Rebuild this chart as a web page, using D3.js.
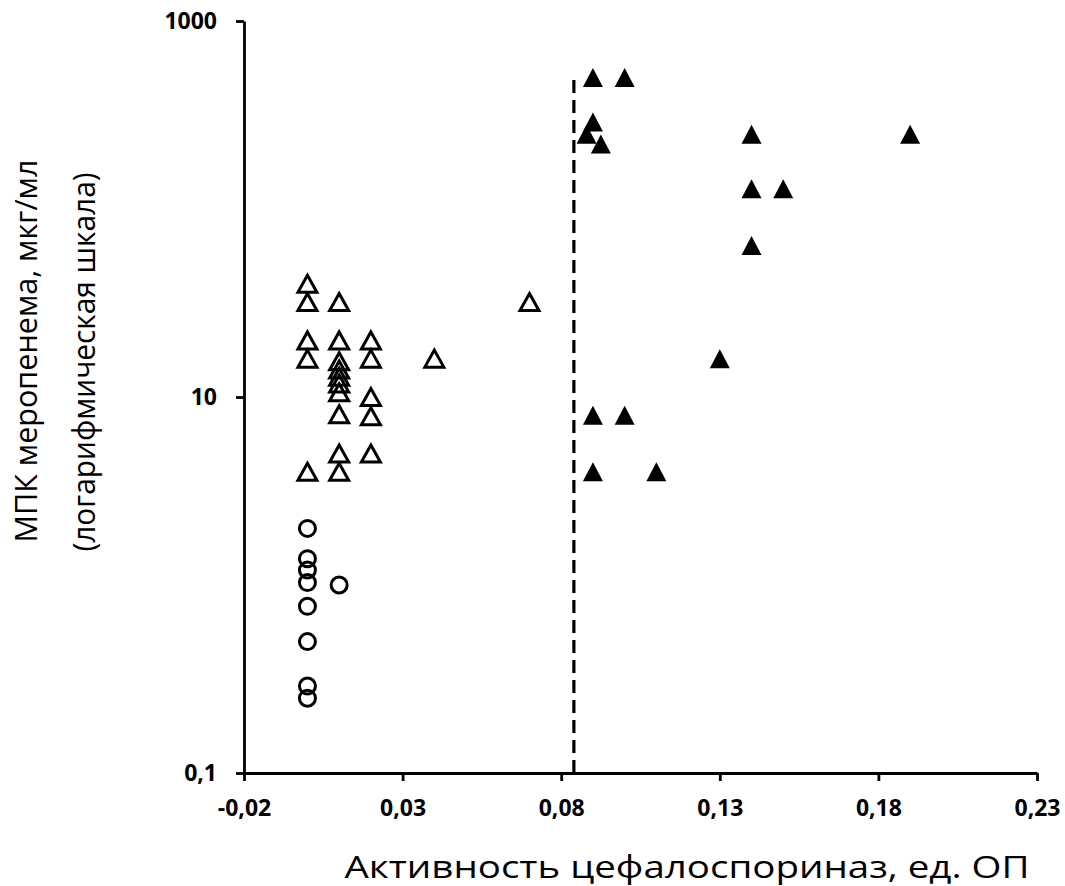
<!DOCTYPE html>
<html>
<head>
<meta charset="utf-8">
<script src="https://cdn.jsdelivr.net/npm/d3@7"></script>
<style>
  body { margin: 0; background: #fff; }
  .axis path, .axis line { stroke: #000; stroke-width: 2.8; }
  .axis text { font-family: "Open Sans", sans-serif; font-weight: bold; font-size: 23px; fill: #000; }
  .title { font-family: "Open Sans", sans-serif; font-size: 31px; fill: #000; }
</style>
</head>
<body>
<div id="chart"></div>
<script>
// x = cephalosporinase activity (OD units), y = meropenem MIC (ug/ml)
var circlesX = [0, 0, 0, 0, 0, 0, 0, 0, 0.01];
var circlesY = [2, 1.38, 1.2, 1.03, 0.77, 0.5, 0.29, 0.25, 1.0];

var openX = [0, 0, 0, 0, 0,
             0.01, 0.01, 0.01, 0.01, 0.01, 0.01, 0.01, 0.01, 0.01, 0.01,
             0.02, 0.02, 0.02, 0.02, 0.02,
             0.04, 0.07];
var openY = [40, 32, 20, 16, 4,
             32, 20, 15.5, 14, 12.8, 11.8, 10.6, 8.1, 5, 4,
             20, 16, 10, 7.9, 5,
             16, 32];

var filledX = [0.09, 0.10, 0.09, 0.088, 0.0925, 0.14, 0.19, 0.14, 0.15, 0.14, 0.13, 0.09, 0.10, 0.09, 0.11];
var filledY = [500, 500, 290, 250, 222, 250, 250, 128, 128, 64, 16, 8, 8, 4, 4];

var cutoffX = 0.084;
var cutoffTop = 500;

var xTicks = [-0.02, 0.03, 0.08, 0.13, 0.18, 0.23];
var yTicks = [0.1, 10, 1000];

var xTitle = "Активность цефалоспориназ, ед. ОП";
var yTitle1 = "МПК меропенема, мкг/мл";
var yTitle2 = "(логарифмическая шкала)";

// layout
var width = 1065, height = 886;
var margin = {top: 21, right: 28, bottom: 113, left: 244};

var svg = d3.select("#chart").append("svg")
    .attr("width", width)
    .attr("height", height);

svg.append("rect").attr("width", width).attr("height", height).attr("fill", "#fff");

var x = d3.scaleLinear()
    .domain([-0.02, 0.23])
    .range([margin.left, width - margin.right]);

var y = d3.scaleLog()
    .domain([0.1, 1000])
    .range([height - margin.bottom, margin.top]);

function fmt(d) { return String(+d.toFixed(2)).replace(".", ","); }

// triangle symbol centred on its bounding box
function triangle(hw, hh) {
  return { draw: function(ctx) {
    ctx.moveTo(0, -hh);
    ctx.lineTo(hw, hh);
    ctx.lineTo(-hw, hh);
    ctx.closePath();
  }};
}

// dashed cutoff line
svg.append("line")
    .attr("x1", x(cutoffX)).attr("x2", x(cutoffX))
    .attr("y1", y(0.1)).attr("y2", y(cutoffTop))
    .attr("stroke", "#000")
    .attr("stroke-width", 3.2)
    .attr("stroke-dasharray", "13,7");

// axes
svg.append("g")
    .attr("class", "axis")
    .attr("transform", "translate(0," + y(0.1) + ")")
    .call(d3.axisBottom(x).tickValues(xTicks).tickFormat(fmt).tickSize(8).tickSizeOuter(0).tickPadding(19));

svg.append("g")
    .attr("class", "axis")
    .attr("transform", "translate(" + x(-0.02) + ",0)")
    .call(d3.axisLeft(y).tickValues(yTicks).tickFormat(fmt).tickSize(8).tickSizeOuter(0).tickPadding(19));

// circles
svg.append("g").selectAll("circle")
    .data(circlesX.map(function(d, i) { return [d, circlesY[i]]; }))
    .enter().append("circle")
      .attr("cx", function(d) { return x(d[0]); })
      .attr("cy", function(d) { return y(d[1]); })
      .attr("r", 8)
      .attr("fill", "none")
      .attr("stroke", "#000")
      .attr("stroke-width", 3);

// open triangles
svg.append("g").selectAll("path")
    .data(openX.map(function(d, i) { return [d, openY[i]]; }))
    .enter().append("path")
      .attr("d", d3.symbol().type(triangle(9.5, 8.5)))
      .attr("transform", function(d) { return "translate(" + x(d[0]) + "," + y(d[1]) + ")"; })
      .attr("fill", "none")
      .attr("stroke", "#000")
      .attr("stroke-width", 3)
      .attr("stroke-linejoin", "miter");

// filled triangles
svg.append("g").selectAll("path")
    .data(filledX.map(function(d, i) { return [d, filledY[i]]; }))
    .enter().append("path")
      .attr("d", d3.symbol().type(triangle(10, 9.5)))
      .attr("transform", function(d) { return "translate(" + x(d[0]) + "," + y(d[1]) + ")"; })
      .attr("fill", "#000");

// axis titles
svg.append("text")
    .attr("class", "title")
    .attr("x", 687).attr("y", 878)
    .attr("text-anchor", "middle")
    .attr("textLength", 685)
    .attr("lengthAdjust", "spacingAndGlyphs")
    .text(xTitle);

svg.append("text")
    .attr("class", "title")
    .attr("transform", "translate(37,351) rotate(-90)")
    .attr("text-anchor", "middle")
    .attr("textLength", 383)
    .attr("lengthAdjust", "spacingAndGlyphs")
    .text(yTitle1);

svg.append("text")
    .attr("class", "title")
    .attr("transform", "translate(95,362) rotate(-90)")
    .attr("text-anchor", "middle")
    .attr("textLength", 379)
    .attr("lengthAdjust", "spacingAndGlyphs")
    .text(yTitle2);
</script>
</body>
</html>
